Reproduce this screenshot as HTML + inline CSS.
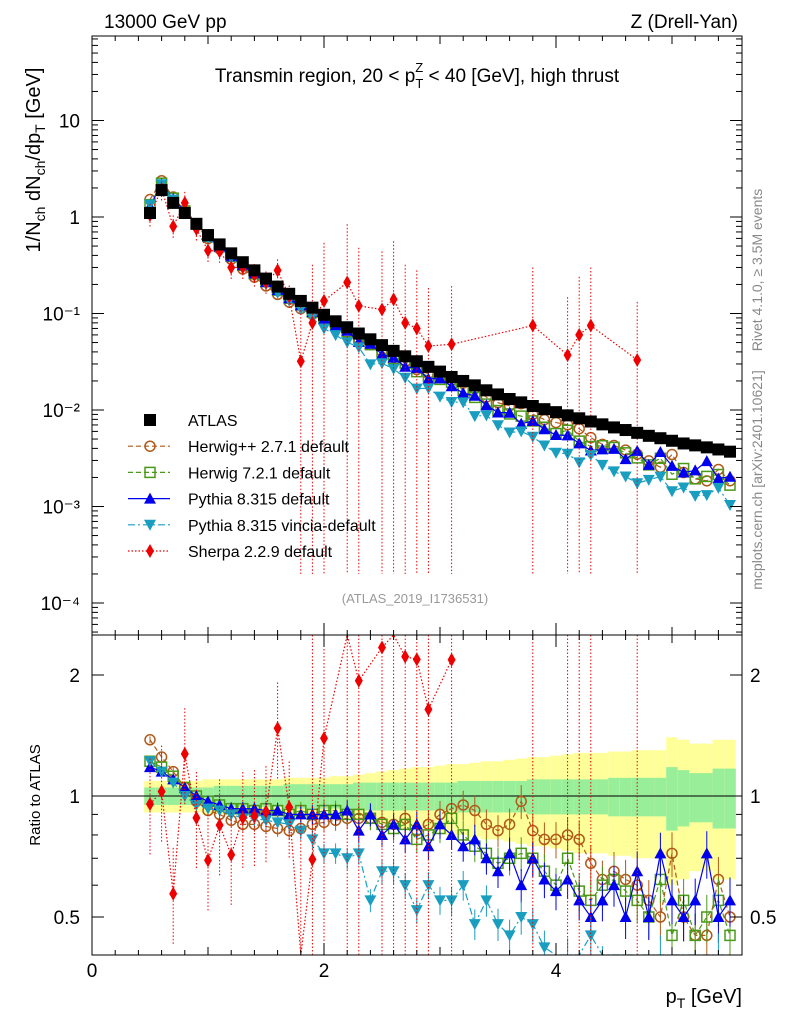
<!DOCTYPE html>
<html><head><meta charset="utf-8">
<style>
html,body{margin:0;padding:0;background:#fff;}
svg{display:block;font-family:"Liberation Sans",sans-serif;}
</style></head>
<body>
<svg id="chart" width="786" height="1024" viewBox="0 0 786 1024">
<rect x="0" y="0" width="786" height="1024" fill="#fff"/>
<g id="bands"></g>
<g id="series"></g>
<g id="axes"></g>
<text x="104" y="28" font-size="19">13000 GeV pp</text>
<text x="738" y="28" font-size="19" text-anchor="end">Z (Drell-Yan)</text>
<text x="417" y="82" font-size="19" text-anchor="middle">Transmin region, 20 &lt; p<tspan font-size="13" dy="6">T</tspan><tspan font-size="13" dx="-8" dy="-16">Z</tspan><tspan font-size="19" dy="10"> &lt; 40 [GeV], high thrust</tspan></text>
<text x="415" y="603" font-size="13" fill="#999" text-anchor="middle">(ATLAS_2019_I1736531)</text>
<text transform="translate(762,270) rotate(-90)" font-size="14" fill="#888" text-anchor="middle">Rivet 4.1.0, ≥ 3.5M events</text>
<text transform="translate(762,480) rotate(-90)" font-size="14" fill="#888" text-anchor="middle">mcplots.cern.ch [arXiv:2401.10621]</text>
<text transform="translate(40,160) rotate(-90)" font-size="20" text-anchor="middle">1/N<tspan font-size="14" dy="5">ch</tspan><tspan dy="-5"> dN</tspan><tspan font-size="14" dy="5">ch</tspan><tspan dy="-5">/dp</tspan><tspan font-size="14" dy="5">T</tspan><tspan dy="-5"> [GeV]</tspan></text>
<text transform="translate(40,795) rotate(-90)" font-size="15" text-anchor="middle">Ratio to ATLAS</text>
<text x="742" y="1003" font-size="20" text-anchor="end">p<tspan font-size="14" dy="5">T</tspan><tspan dy="-5"> [GeV]</tspan></text>
<g id="legend"></g>
</svg>
<script>
const xs=[0.5,0.6,0.7,0.8,0.9,1.0,1.1,1.2,1.3,1.4,1.5,1.6,1.7,1.8,1.9,2.0,2.1,2.2,2.3,2.4,2.5,2.6,2.7,2.8,2.9,3.0,3.1,3.2,3.3,3.4,3.5,3.6,3.7,3.8,3.9,4.0,4.1,4.2,4.3,4.4,4.5,4.6,4.7,4.8,4.9,5.0,5.1,5.2,5.3,5.4,5.5];
const atlas=[1.1,1.9,1.4,1.1,0.85,0.65,0.52,0.42,0.34,0.28,0.23,0.19,0.16,0.135,0.115,0.097,0.083,0.072,0.062,0.054,0.047,0.041,0.036,0.032,0.028,0.025,0.022,0.020,0.018,0.016,0.0145,0.013,0.012,0.011,0.0102,0.0095,0.0088,0.0082,0.0076,0.0071,0.0066,0.0062,0.0058,0.0054,0.0051,0.0048,0.0045,0.0043,0.0041,0.0039,0.0037];
const rHerwigpp=[1.38,1.25,1.15,1.05,0.97,0.92,0.9,0.87,0.85,0.85,0.84,0.83,0.82,0.83,0.85,0.86,0.87,0.88,0.88,0.88,0.86,0.85,0.88,0.82,0.85,0.9,0.93,0.95,0.92,0.85,0.82,0.85,0.97,0.82,0.78,0.78,0.8,0.78,0.68,0.62,0.65,0.62,0.6,0.55,0.5,0.72,0.5,0.45,0.45,0.62,0.5];
const rHerwig7=[1.22,1.18,1.12,1.05,1.0,0.97,0.95,0.93,0.93,0.92,0.93,0.92,0.9,0.92,0.9,0.92,0.92,0.9,0.9,0.88,0.85,0.83,0.85,0.78,0.8,0.83,0.88,0.8,0.75,0.72,0.68,0.7,0.72,0.7,0.65,0.6,0.7,0.58,0.55,0.6,0.62,0.58,0.55,0.5,0.62,0.45,0.55,0.45,0.5,0.55,0.45];
const rPythia=[1.18,1.15,1.1,1.05,1.0,0.97,0.95,0.93,0.93,0.93,0.92,0.92,0.9,0.9,0.9,0.9,0.9,0.92,0.82,0.9,0.8,0.85,0.78,0.85,0.75,0.85,0.8,0.75,0.78,0.7,0.65,0.72,0.6,0.7,0.62,0.58,0.62,0.55,0.5,0.55,0.6,0.5,0.65,0.5,0.72,0.55,0.5,0.55,0.72,0.5,0.55];
const rVincia=[1.22,1.15,1.08,1.0,0.95,0.93,0.92,0.9,0.88,0.88,0.87,0.86,0.85,0.82,0.78,0.72,0.72,0.7,0.72,0.55,0.65,0.65,0.6,0.52,0.6,0.55,0.55,0.6,0.48,0.55,0.48,0.45,0.5,0.48,0.42,0.38,0.4,0.35,0.45,0.38,0.35,0.33,0.3,0.35,0.4,0.3,0.35,0.3,0.32,0.4,0.28];
const sherpa=[1.05,1.95,0.8,1.4,0.75,0.45,0.44,0.3,0.3,0.25,0.21,0.28,0.15,0.032,0.08,0.135,null,0.21,0.12,null,0.11,0.14,0.08,0.07,0.046,null,0.048,null,null,null,null,null,null,0.075,null,null,0.037,0.06,0.075,null,null,null,0.033,null,null,null,null,null,null,null,null];
const bandGreen=[0.05,0.05,0.05,0.05,0.05,0.05,0.06,0.06,0.06,0.06,0.06,0.06,0.07,0.07,0.07,0.07,0.07,0.07,0.08,0.08,0.08,0.08,0.08,0.08,0.08,0.08,0.08,0.09,0.09,0.09,0.09,0.09,0.09,0.1,0.1,0.1,0.1,0.1,0.1,0.1,0.11,0.11,0.11,0.11,0.11,0.18,0.16,0.14,0.14,0.17,0.17];
const bandYellow=[0.09,0.09,0.09,0.09,0.09,0.1,0.1,0.1,0.1,0.1,0.1,0.1,0.11,0.11,0.11,0.11,0.12,0.12,0.13,0.14,0.15,0.16,0.17,0.18,0.18,0.19,0.2,0.2,0.21,0.22,0.22,0.23,0.24,0.25,0.25,0.26,0.27,0.28,0.28,0.28,0.29,0.29,0.3,0.3,0.3,0.4,0.38,0.35,0.35,0.38,0.38];
const xTicks=[0,2,4];
const yMainTicks=[10,1,0.1,0.01,0.001,0.0001];
const yMainLabels=["10","1","10\u207B\u00B9","10\u207B\u00B2","10\u207B\u00B3","10\u207B\u2074"];
const yRatioTicks=[0.5,1,2];

const NS="http://www.w3.org/2000/svg";
const L=92,R=742,T=36,MB=635,RB=955;
const X=v=>L+116*v;
const Ym=v=>217-96.5*Math.log10(v);
const Yr=v=>796-121*Math.log2(v);
function el(tag,attrs,parent){const e=document.createElementNS(NS,tag);for(const k in attrs)e.setAttribute(k,attrs[k]);parent.appendChild(e);return e;}
const gB=document.getElementById('bands'),gS=document.getElementById('series'),gA=document.getElementById('axes'),gL=document.getElementById('legend');

xs.forEach((x,i)=>{
  const x0=Math.max(X(x-0.05),L),x1=Math.min(X(x+0.05),R);
  let y1=Yr(1+bandYellow[i]),y0=Yr(1-bandYellow[i]);
  const ry=el('rect',{x:x0,y:y1,width:x1-x0,height:y0-y1,fill:'#ffff99'},gB);
  
  
  y1=Yr(1+bandGreen[i]);y0=Yr(1-bandGreen[i]);
  const rg=el('rect',{x:x0,y:y1,width:x1-x0,height:y0-y1,fill:'#99ee99'},gB);
  
  
});
const ul=el('line',{x1:L,x2:R,y1:Yr(1),y2:Yr(1),stroke:'#000','stroke-width':1},gB);



function clipR(y){return Math.max(T,Math.min(RB,y));}
function marker(g,type,cx,cy,color){
  let m;
  if(type==='sq') m=el('rect',{x:cx-6,y:cy-6,width:12,height:12,fill:'#000'},g);
  else if(type==='circ') m=el('circle',{cx,cy,r:5,fill:'none',stroke:color,'stroke-width':1.5},g);
  else if(type==='osq') m=el('rect',{x:cx-5,y:cy-5,width:10,height:10,fill:'none',stroke:color,'stroke-width':1.5},g);
  else if(type==='tri') m=el('polygon',{points:`${cx},${cy-6} ${cx-6},${cy+5} ${cx+6},${cy+5}`,fill:color},g);
  else if(type==='itri') m=el('polygon',{points:`${cx},${cy+6} ${cx-6},${cy-5} ${cx+6},${cy-5}`,fill:color},g);
  else if(type==='dia') m=el('polygon',{points:`${cx},${cy-7} ${cx-4},${cy} ${cx},${cy+7} ${cx+4},${cy}`,fill:color},g);
  return m;
}
const mcs=[
 {name:'herwigpp',r:rHerwigpp,color:'#b05a1a',m:'circ',dash:'5,3',lab:'Herwig++ 2.7.1 default'},
 {name:'herwig7',r:rHerwig7,color:'#4a9a1a',m:'osq',dash:'5,3',lab:'Herwig 7.2.1 default'},
 {name:'pythia',r:rPythia,color:'#0000ee',m:'tri',dash:'',lab:'Pythia 8.315 default'},
 {name:'vincia',r:rVincia,color:'#1a9ec0',m:'itri',dash:'7,3,2,3',lab:'Pythia 8.315 vincia-default'},
];
mcs.forEach(s=>{
  const g=el('g',{},gS);
  
  
  const pm=xs.map((x,i)=>`${X(x)},${Ym(atlas[i]*s.r[i])}`).join(' ');
  el('polyline',{points:pm,fill:'none',stroke:s.color,'stroke-width':1.2,'stroke-dasharray':s.dash},g);
  const pr=xs.map((x,i)=>`${X(x)},${clipR(Yr(s.r[i]))}`).join(' ');
  el('polyline',{points:pr,fill:'none',stroke:s.color,'stroke-width':1.2,'stroke-dasharray':s.dash},g);
  xs.forEach((x,i)=>{
    const e=0.02+0.12*(x-0.5)/5;
    const yr=Yr(s.r[i]);
    el('line',{x1:X(x),x2:X(x),y1:clipR(Yr(s.r[i]*(1+e))),y2:clipR(Yr(s.r[i]*(1-e))),stroke:s.color,'stroke-width':1},g);
    const a=marker(g,s.m,X(x),Ym(atlas[i]*s.r[i]),s.color);
    
    
    if(yr>T&&yr<RB){
      const b=marker(g,s.m,X(x),yr,s.color);
      
      
    }
  });
});
(function(){
  const g=el('g',{},gS);
  
  
  const c='#ee0000';
  const pts=[];
  xs.forEach((x,i)=>{
    if(sherpa[i]==null)return;
    pts.push(`${X(x)},${Ym(sherpa[i])}`);
    const r=sherpa[i]/atlas[i];
    const lo=i>12?0.0002:sherpa[i]*0.75,hi=i>12?sherpa[i]*4:sherpa[i]*1.3;
    el('line',{x1:X(x),x2:X(x),y1:Math.max(T,Ym(hi)),y2:Math.min(MB,Ym(lo)),stroke:c,'stroke-width':1,'stroke-dasharray':'1.5,2'},g);
    el('line',{x1:X(x),x2:X(x),y1:Math.max(MB,clipR(Yr(hi/atlas[i]))),y2:clipR(Yr(lo/atlas[i])),stroke:c,'stroke-width':1,'stroke-dasharray':'1.5,2'},g);
    const a=marker(g,'dia',X(x),Ym(sherpa[i]),c);
    
    
    const yr=Yr(r);
    if(yr>MB&&yr<RB){const b=marker(g,'dia',X(x),yr,c);
      
      }
  });
  el('polyline',{points:pts.join(' '),fill:'none',stroke:c,'stroke-width':1.2,'stroke-dasharray':'1.5,2'},g);
  const rl=xs.map((x,i)=>(sherpa[i]==null||x>3.15)?null:`${X(x)},${Math.max(MB,clipR(Yr(sherpa[i]/atlas[i])))}`).filter(v=>v).join(' ');
  el('polyline',{points:rl,fill:'none',stroke:c,'stroke-width':1.2,'stroke-dasharray':'1.5,2'},g);
})();
(function(){
  const g=el('g',{},gS);
  
  
  xs.forEach((x,i)=>{
    const m=marker(g,'sq',X(x),Ym(atlas[i]),'#000');
    
    
  });
})();
el('rect',{x:L,y:0,width:R-L,height:T,fill:'#fff'},gS);
el('rect',{x:L,y:RB,width:R-L,height:1024-RB,fill:'#fff'},gS);
const f1=el('rect',{x:L,y:T,width:R-L,height:MB-T,fill:'none',stroke:'#000','stroke-width':1},gA);

const f2=el('rect',{x:L,y:MB,width:R-L,height:RB-MB,fill:'none',stroke:'#000','stroke-width':1},gA);

for(let v=0;v<=5.6;v+=0.2){
  const big=Math.abs(v-Math.round(v/2)*2)<1e-6?1:0; const len=(Math.abs(v-Math.round(v))<1e-6)?(big?12:8):5;
  [T,MB].forEach(y=>el('line',{x1:X(v),x2:X(v),y1:y,y2:y+len,stroke:'#000'},gA));
  [MB,RB].forEach(y=>el('line',{x1:X(v),x2:X(v),y1:y,y2:y-len,stroke:'#000'},gA));
}
xTicks.forEach(v=>{const t=el('text',{x:X(v),y:977,'font-size':19,'text-anchor':'middle'},gA);t.textContent=v;
  });
for(let d=-5;d<=1;d++){for(let k=1;k<10;k++){const v=k*Math.pow(10,d);const y=Ym(v);if(y<T||y>MB)continue;
  const len=k===1?12:6; el('line',{x1:L,x2:L+len,y1:y,y2:y,stroke:'#000'},gA);el('line',{x1:R,x2:R-len,y1:y,y2:y,stroke:'#000'},gA);}}
yMainTicks.forEach((v,i)=>{const t=el('text',{x:80,y:Ym(v)+7,'font-size':19,'text-anchor':'end'},gA);t.textContent=yMainLabels[i];
  });
[0.5,0.6,0.7,0.8,0.9,1,2].forEach(v=>{const y=Yr(v);const len=(v===0.5||v===1||v===2)?12:6;
  el('line',{x1:L,x2:L+len,y1:y,y2:y,stroke:'#000'},gA);el('line',{x1:R,x2:R-len,y1:y,y2:y,stroke:'#000'},gA);});
yRatioTicks.forEach(v=>{const t=el('text',{x:80,y:Yr(v)+7,'font-size':19,'text-anchor':'end'},gA);t.textContent=v;
  
  const t2=el('text',{x:750,y:Yr(v)+7,'font-size':19},gA);t2.textContent=v;
  });
const legItems=[{lab:'ATLAS',m:'sq',c:'#000',dash:null}].concat(mcs.map(s=>({lab:s.lab,m:s.m,c:s.color,dash:s.dash}))).concat([{lab:'Sherpa 2.2.9 default',m:'dia',c:'#ee0000',dash:'1.5,2'}]);
legItems.forEach((it,i)=>{
  const y=420+26.2*i;const g=el('g',{},gL);
  
  
  if(it.dash!==null)el('line',{x1:128,x2:170,y1:y,y2:y,stroke:it.c,'stroke-width':1.2,'stroke-dasharray':it.dash},g);
  marker(g,it.m,150,y,it.c);
  const t=el('text',{x:188,y:y+6,'font-size':16},g);t.textContent=it.lab;
});
</script>
</body></html>
